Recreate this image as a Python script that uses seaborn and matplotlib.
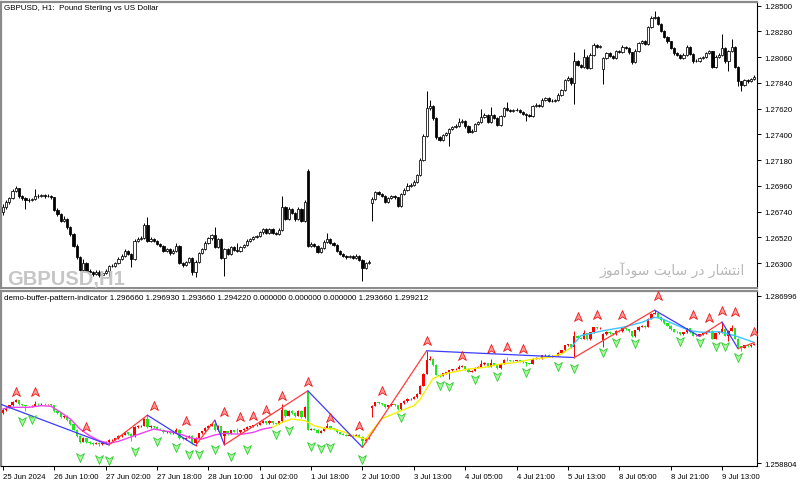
import numpy as np
import matplotlib
matplotlib.use("Agg")
import matplotlib.pyplot as plt
import seaborn as sns
from matplotlib.path import Path

sns.set_theme(style="white")
plt.rcParams["font.family"] = ["Liberation Sans", "DejaVu Sans"]

# ---------------- data (points above 1.26000, i.e. price = 1.26 + v/1e5) ----------------
BASE = 1.26
opens = [
    733, 776, 818, 853, 918, 938, 875, 853, 841, 836,
    847, 875, 870, 881, 870, 875, 861, 756, 719, 662,
    676, 605, 548, 448, 348, 243, 300, 234, 220, 206,
    226, 197, 214, 234, 271, 277, 300, 334, 362, 405,
    377, 334, 491, 505, 516, 625, 491, 505, 491, 462,
    448, 405, 419, 385, 405, 442, 300, 283, 306, 340,
    226, 311, 385, 419, 471, 511, 539, 434, 505, 340,
    419, 377, 434, 414, 405, 434, 454, 491, 505, 519,
    528, 562, 590, 556, 590, 556, 548, 585, 776, 676,
    762, 727, 676, 762, 662, 1089, 448, 462, 448, 397,
    425, 482, 505, 471, 454, 405, 377, 362, 348, 357,
    340, 362, 328, 254, 300, 813, 847, 904, 890, 875,
    824, 853, 870, 861, 790, 890, 927, 961, 967, 990,
    1052, 1183, 1388, 1622, 1639, 1537, 1374, 1354, 1394, 1411,
    1446, 1460, 1474, 1502, 1514, 1468, 1423, 1431, 1488, 1502,
    1545, 1565, 1508, 1565, 1537, 1480, 1554, 1622, 1611, 1602,
    1608, 1611, 1594, 1577, 1565, 1554, 1639, 1651, 1645, 1696,
    1708, 1685, 1688, 1693, 1739, 1779, 1864, 1881, 1836, 2024,
    1995, 1978, 2064, 1967, 2081, 2166, 2149, 1958, 2052, 2092,
    2072, 2052, 2109, 2101, 2149, 2138, 2101, 2015, 2115, 2178,
    2195, 2172, 2314, 2394, 2406, 2343, 2286, 2235, 2195, 2138,
    2092, 2081, 2052, 2081, 2149, 2087, 2024, 2030, 2050, 2064,
    2092, 2109, 1978, 2064, 2081, 2138, 2024, 2109, 2149, 1978,
    1853, 1824, 1864, 1853, 1873,
]
closes = [
    776, 818, 853, 918, 938, 875, 853, 841, 836, 847,
    875, 870, 881, 870, 875, 861, 756, 719, 662, 676,
    605, 548, 448, 348, 243, 300, 234, 220, 206, 226,
    197, 214, 234, 271, 277, 300, 334, 362, 405, 377,
    334, 491, 505, 516, 625, 491, 505, 491, 462, 448,
    405, 419, 385, 405, 442, 300, 283, 306, 340, 226,
    311, 385, 419, 471, 511, 539, 434, 505, 340, 419,
    377, 434, 414, 405, 434, 454, 491, 505, 519, 528,
    562, 590, 556, 590, 556, 548, 585, 776, 676, 762,
    727, 676, 762, 662, 824, 448, 462, 448, 397, 425,
    482, 505, 471, 454, 405, 377, 362, 348, 357, 340,
    362, 328, 254, 300, 311, 847, 904, 890, 875, 824,
    853, 870, 861, 790, 890, 927, 961, 967, 990, 1052,
    1183, 1388, 1622, 1639, 1537, 1374, 1354, 1394, 1411, 1446,
    1460, 1474, 1502, 1514, 1468, 1423, 1431, 1488, 1502, 1545,
    1565, 1508, 1565, 1537, 1480, 1554, 1622, 1611, 1602, 1608,
    1611, 1594, 1577, 1565, 1554, 1639, 1651, 1645, 1696, 1708,
    1685, 1688, 1693, 1739, 1779, 1864, 1881, 1836, 2024, 1995,
    1978, 2064, 1967, 2081, 2166, 2149, 2155, 2052, 2092, 2072,
    2052, 2109, 2101, 2149, 2138, 2101, 2015, 2115, 2178, 2195,
    2172, 2314, 2394, 2406, 2343, 2286, 2235, 2195, 2138, 2092,
    2081, 2052, 2081, 2149, 2087, 2024, 2030, 2050, 2064, 2092,
    2109, 1978, 2064, 2081, 2138, 2024, 2109, 2149, 1978, 1853,
    1824, 1864, 1853, 1873, 1893,
]
highs = [
    804, 835, 868, 935, 955, 945, 885, 862, 852, 860,
    932, 888, 892, 890, 886, 884, 868, 770, 730, 700,
    688, 615, 560, 460, 360, 330, 310, 248, 232, 240,
    238, 228, 250, 285, 292, 312, 350, 375, 420, 415,
    388, 505, 520, 530, 640, 690, 520, 515, 500, 472,
    458, 432, 428, 418, 470, 450, 312, 320, 352, 350,
    322, 398, 432, 485, 525, 552, 605, 518, 515, 430,
    428, 448, 445, 470, 445, 466, 502, 516, 530, 540,
    575, 602, 600, 602, 598, 565, 598, 876, 790, 775,
    772, 738, 778, 772, 838, 1100, 476, 472, 458, 438,
    495, 560, 515, 480, 462, 415, 388, 372, 368, 366,
    374, 370, 336, 312, 324, 862, 915, 912, 900, 882,
    865, 882, 880, 868, 900, 940, 985, 980, 1012, 1065,
    1196, 1400, 1773, 1690, 1650, 1545, 1385, 1405, 1422, 1458,
    1472, 1486, 1540, 1528, 1522, 1476, 1444, 1500, 1515, 1617,
    1580, 1575, 1631, 1575, 1545, 1566, 1635, 1673, 1620, 1618,
    1622, 1620, 1602, 1585, 1572, 1650, 1665, 1660, 1708, 1722,
    1716, 1700, 1706, 1752, 1792, 1876, 1895, 1890, 2101, 2036,
    2005, 2129, 2075, 2092, 2178, 2175, 2166, 2064, 2105, 2100,
    2080, 2120, 2118, 2162, 2158, 2146, 2108, 2126, 2190, 2208,
    2204, 2326, 2408, 2457, 2415, 2350, 2294, 2242, 2202, 2146,
    2100, 2090, 2092, 2160, 2158, 2095, 2042, 2060, 2074, 2102,
    2120, 2116, 2076, 2092, 2257, 2146, 2120, 2215, 2158, 1985,
    1860, 1875, 1872, 1884, 1910,
]
lows = [
    710, 765, 805, 845, 905, 860, 840, 761, 825, 828,
    840, 858, 862, 860, 862, 850, 745, 705, 650, 648,
    590, 530, 435, 330, 228, 235, 220, 205, 192, 198,
    180, 188, 205, 190, 262, 268, 292, 325, 352, 365,
    263, 325, 480, 495, 505, 478, 480, 478, 450, 436,
    392, 398, 372, 376, 398, 288, 270, 275, 298, 200,
    180, 302, 375, 410, 462, 500, 425, 425, 330, 191,
    365, 368, 404, 395, 398, 425, 446, 482, 496, 510,
    520, 552, 545, 548, 545, 538, 540, 575, 665, 668,
    715, 660, 668, 648, 650, 438, 436, 438, 386, 388,
    418, 474, 460, 443, 395, 366, 352, 338, 340, 330,
    332, 318, 149, 245, 290, 662, 838, 880, 865, 812,
    815, 845, 850, 780, 782, 880, 918, 950, 958, 982,
    1045, 1175, 1380, 1610, 1525, 1360, 1340, 1345, 1385, 1303,
    1438, 1452, 1466, 1494, 1458, 1412, 1415, 1425, 1480, 1495,
    1537, 1498, 1500, 1528, 1470, 1472, 1546, 1602, 1594, 1595,
    1600, 1585, 1568, 1517, 1545, 1546, 1630, 1636, 1638, 1688,
    1676, 1676, 1678, 1685, 1730, 1770, 1855, 1825, 1659, 1985,
    1968, 1970, 1955, 1960, 2072, 2140, 2140, 1830, 2045, 2062,
    2042, 2045, 2092, 2094, 2128, 2090, 2004, 2008, 2108, 2170,
    2162, 2165, 2306, 2385, 2332, 2276, 2225, 2185, 2128, 2082,
    2070, 2042, 2045, 2074, 2078, 2014, 2016, 2015, 2042, 2056,
    2084, 1966, 1970, 2055, 2074, 2014, 1944, 2100, 1968, 1810,
    1773, 1816, 1842, 1845, 1866,
]

time_labels = ["25 Jun 2024", "26 Jun 10:00", "27 Jun 02:00", "27 Jun 18:00",
               "28 Jun 10:00", "1 Jul 02:00", "1 Jul 18:00", "2 Jul 10:00",
               "3 Jul 13:00", "4 Jul 05:00", "4 Jul 21:00", "5 Jul 13:00",
               "8 Jul 05:00", "8 Jul 21:00", "9 Jul 13:00"]
time_label_bars = [0, 16, 32, 48, 64, 80, 96, 112, 128, 144, 160, 176, 192, 208, 224]

price_ticks = [1.28500, 1.28280, 1.28060, 1.27840, 1.27620, 1.27400,
               1.27180, 1.26960, 1.26740, 1.26520, 1.26300]
ind_ticks = [1.286996, 1.258804]

# zigzag pivots (bar index, points)
zz_idx = [-1, 33, 45, 60, 66, 69, 95, 112, 132, 178, 203, 217, 224, 229, 234]
zz_val = [880, 190, 690, 180, 605, 191, 1100, 149, 1773, 1659, 2457, 2015, 2257, 1810, 1910]

# moving average segments
ma1_idx = [0, 2, 5, 8, 12, 15, 18, 21, 24, 27, 30, 33, 36, 41, 44, 47, 50, 53, 56, 59,
           62, 66, 69, 72, 75, 78, 81, 84]
ma1_val = [794, 822, 822, 822, 850, 839, 738, 626, 457, 345, 261, 216, 250, 345, 401,
           457, 429, 401, 357, 300, 289, 357, 385, 373, 373, 401, 457, 486]
ma2_idx = [84, 87, 90, 94, 97, 100, 103, 106, 109, 113, 118, 124, 128, 130, 134, 138,
           145, 150, 155, 160, 165, 170, 174, 177]
ma2_val = [486, 570, 626, 598, 513, 469, 457, 413, 345, 289, 630, 765, 849, 962, 1310,
           1390, 1466, 1494, 1550, 1578, 1634, 1662, 1718, 1830]
ma3_idx = [177, 180, 187, 193, 199, 203, 205, 209, 214, 218, 223, 228, 234]
ma3_val = [1830, 2027, 2111, 2167, 2251, 2336, 2320, 2223, 2111, 2083, 2095, 2027, 1915]

# arrow signals
up_idx = [4, 10, 26, 47, 57, 69, 74, 78, 82, 87, 95, 102, 111, 118, 132, 143, 152, 157,
          162, 179, 185, 193, 204, 215, 220, 224, 228, 234]
up_val = [1085, 1074, 485, 839, 590, 745, 654, 682, 770, 1018, 1240, 640, 510, 1100,
          1943, 1691, 1803, 1831, 1803, 2336, 2375, 2375, 2689, 2375, 2319, 2448, 2420, 2095]
dn_idx = [6, 9, 24, 30, 33, 41, 48, 54, 58, 61, 66, 71, 76, 85, 89, 96, 99, 102, 112,
          124, 136, 139, 147, 154, 163, 173, 178, 187, 191, 197, 211, 217, 222, 225, 229]
dn_val = [598, 626, -19, -47, -58, 93, 261, 149, 37, 37, 121, -2, 121, 373, 446, 177,
          132, 149, -47, 660, 1197, 1175, 1298, 1355, 1411, 1523, 1478, 1747, 1926, 1904,
          1943, 1926, 1859, 1848, 1663]

title_main = "GBPUSD, H1:  Pound Sterling vs US Dollar"
title_ind = ("demo-buffer-pattern-indicator 1.296660 1.296930 1.293660 1.294220 "
             "0.000000 0.000000 0.000000 1.293660 1.299212")
watermark = "GBPUSD,H1"
# Persian watermark "انتشار در سایت سودآموز" in presentation forms (logical order)
fa_words = ["\uFE8D\uFEE7\uFE98\uFEB8\uFE8E\uFEAD", "\uFEA9\uFEAD",
            "\uFEB3\uFE8E\uFEF3\uFE96", "\uFEB3\uFEEE\uFEA9\uFE81\uFEE3\uFEEE\uFEAF"]
fa_text = " ".join(fa_words)[::-1]

# ---------------- conversion ----------------
def px(v):
    return BASE + np.asarray(v, dtype=float) / 1e5

o = px(opens); c = px(closes); h = px(highs); l = px(lows)
idx = np.arange(len(o))
bull = c >= o
body_bot = np.minimum(o, c)
body_h = np.maximum(np.abs(c - o), 0.000012)

W, H = 800, 485
fig = plt.figure(figsize=(8, 4.85), dpi=100)
fig.patch.set_facecolor("white")

def fx(xp):
    return xp / W

def fy(yp):
    return 1 - yp / H

ax1 = fig.add_axes([fx(1), fy(289), 756 / W, 286 / H])
ax2 = fig.add_axes([fx(1), fy(467), 756 / W, 175 / H])
XL = (-0.6, 234.9)

# ---------------- top: price chart ----------------
ax1.vlines(idx, l, h, color="black", linewidth=0.7, zorder=2)
ax1.bar(idx[bull], body_h[bull], bottom=body_bot[bull], width=0.7,
        color="white", edgecolor="black", linewidth=0.55, zorder=3)
ax1.bar(idx[~bull], body_h[~bull], bottom=body_bot[~bull], width=0.7,
        color="black", edgecolor="black", linewidth=0.55, zorder=3)
ax1.set_xlim(*XL)
ax1.set_ylim(1.260863, 1.285316)
ax1.set_xticks([])
ax1.set_yticks(price_ticks)
ax1.set_yticklabels([f"{t:.5f}" for t in price_ticks])
ax1.tick_params(axis="y", left=False, labelleft=False, right=True, labelright=True,
                direction="out", length=3, width=0.7, colors="black",
                labelsize=5.6, pad=2)

fig.text(fx(7), fy(285), watermark, fontsize=14.5, fontweight="bold",
         color="#c6c6c6", ha="left", va="baseline", zorder=0.5)
ax1.text((745 - 1) / 756, (289 - 271) / 286, fa_text, transform=ax1.transAxes,
         fontsize=10, color="#b8b8b8", ha="right", va="center",
         family=["DejaVu Sans"], zorder=1)

# ---------------- bottom: indicator window ----------------
red, green = "#ff0000", "#1fe61f"
ax2.vlines(idx[bull], l[bull], h[bull], color=red, linewidth=0.7, zorder=2)
ax2.vlines(idx[~bull], l[~bull], h[~bull], color=green, linewidth=0.7, zorder=2)
ax2.bar(idx[bull], body_h[bull], bottom=body_bot[bull], width=0.72,
        color=red, linewidth=0, zorder=3)
ax2.bar(idx[~bull], body_h[~bull], bottom=body_bot[~bull], width=0.72,
        color=green, linewidth=0, zorder=3)

sns.lineplot(x=ma1_idx, y=px(ma1_val), ax=ax2, color="#f040f0", linewidth=1.0,
             sort=False, estimator=None, zorder=4)
sns.lineplot(x=ma2_idx, y=px(ma2_val), ax=ax2, color="#f5f000", linewidth=1.0,
             sort=False, estimator=None, zorder=4)
sns.lineplot(x=ma3_idx, y=px(ma3_val), ax=ax2, color="#3cc4ff", linewidth=1.0,
             sort=False, estimator=None, zorder=4)

zz_p = px(zz_val)
for k in range(len(zz_idx) - 1):
    col = "#ff3b3b" if zz_p[k + 1] > zz_p[k] else "#3c3cff"
    sns.lineplot(x=[zz_idx[k], zz_idx[k + 1]], y=[zz_p[k], zz_p[k + 1]], ax=ax2,
                 color=col, linewidth=0.9, sort=False, estimator=None, zorder=4)

up_marker = Path([(0, 1), (0.8, -0.8), (0, -0.3), (-0.8, -0.8), (0, 1)],
                 [Path.MOVETO, Path.LINETO, Path.LINETO, Path.LINETO, Path.CLOSEPOLY])
dn_marker = Path([(0, -1), (0.8, 0.8), (0, 0.3), (-0.8, 0.8), (0, -1)],
                 [Path.MOVETO, Path.LINETO, Path.LINETO, Path.LINETO, Path.CLOSEPOLY])
sns.scatterplot(x=up_idx, y=px(up_val), ax=ax2, marker=up_marker, s=50,
                color="#ff9a9a", edgecolor="#f01818", linewidth=0.6, zorder=6)
sns.scatterplot(x=dn_idx, y=px(dn_val), ax=ax2, marker=dn_marker, s=50,
                color="#b0f5a8", edgecolor="#2ccf2c", linewidth=0.6, zorder=6)

ax2.set_xlim(*XL)
ax2.set_ylim(1.258352, 1.287787)
ax2.set_yticks(ind_ticks)
ax2.set_yticklabels([f"{t:.6f}" for t in ind_ticks])
ax2.tick_params(axis="y", left=False, labelleft=False, right=True, labelright=True,
                direction="out", length=3, width=0.7, colors="black",
                labelsize=5.6, pad=2)
ax2.set_xticks(time_label_bars)
ax2.set_xticklabels(time_labels, ha="left")
ax2.tick_params(axis="x", bottom=True, labelbottom=True, direction="out", length=3,
                width=0.7, colors="black", labelsize=5.6, pad=2)
ax2.set_xlabel(""); ax2.set_ylabel("")

fig.text(fx(4), fy(8), title_main, fontsize=5.8, color="black", ha="left", va="center")
fig.text(fx(4), fy(299), title_ind, fontsize=5.8, color="black", ha="left", va="center")

for ax in (ax1, ax2):
    ax.set_facecolor("white")
    ax.grid(False)
    for s in ("left", "top"):
        ax.spines[s].set_color("#8a8a8a")
        ax.spines[s].set_linewidth(1.6)
    ax.spines["right"].set_color("black")
    ax.spines["right"].set_linewidth(0.8)
ax1.spines["bottom"].set_color("#8a8a8a")
ax1.spines["bottom"].set_linewidth(1.4)
ax2.spines["bottom"].set_color("black")
ax2.spines["bottom"].set_linewidth(0.8)

fig.savefig("out.png", dpi=100, facecolor="white")
